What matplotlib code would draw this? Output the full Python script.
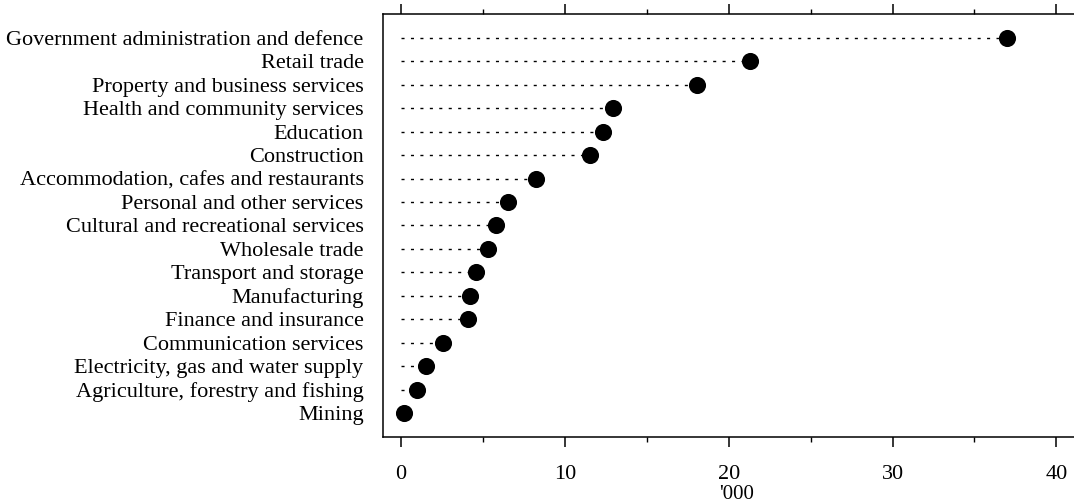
import matplotlib
matplotlib.use("Agg")
import matplotlib.pyplot as plt
from matplotlib.ticker import MultipleLocator

industries = [
    "Government administration and defence",
    "Retail trade",
    "Property and business services",
    "Health and community services",
    "Education",
    "Construction",
    "Accommodation, cafes and restaurants",
    "Personal and other services",
    "Cultural and recreational services",
    "Wholesale trade",
    "Transport and storage",
    "Manufacturing",
    "Finance and insurance",
    "Communication services",
    "Electricity, gas and water supply",
    "Agriculture, forestry and fishing",
    "Mining",
]
values = [37.0, 21.3, 18.05, 12.95, 12.35, 11.55, 8.25, 6.5, 5.8, 5.3,
          4.55, 4.2, 4.1, 2.55, 1.5, 1.0, 0.2]
x_ticks = [0, 10, 20, 30, 40]

plt.rcParams['font.family'] = ['Liberation Serif', 'DejaVu Serif']

fig = plt.figure(figsize=(10.74, 5.04), dpi=100)
ax = fig.add_axes([383 / 1074, 67 / 504, (1090 - 383) / 1074, 423 / 504])

n = len(industries)
ypos = list(range(n - 1, -1, -1))

ax.hlines(ypos, 0, values, colors='black', linewidth=1.0,
          linestyles=(0, (2.2, 4.6)))
ax.plot(values, ypos, 'o', color='black', markersize=11.3, linestyle='none')

ax.set_xlim(-1.1, 42.05)
ax.set_ylim(-1.02, n - 1 + 1.02)

ax.set_yticks(ypos)
ax.set_yticklabels(industries, fontsize=16)
ax.tick_params(axis='y', length=0, pad=14)

ax.set_xticks(x_ticks)
ax.xaxis.set_minor_locator(MultipleLocator(5))
ax.tick_params(axis='x', which='major', direction='out', length=7.5, width=1.1,
               labelsize=16, pad=12.5, top=True)
ax.tick_params(axis='x', which='minor', direction='out', length=3.5, width=1.0,
               top=True)
ax.set_xlabel("'000", fontsize=15, labelpad=1)

for side in ['left', 'top', 'bottom']:
    ax.spines[side].set_linewidth(1.1)
ax.spines['right'].set_visible(False)

fig.savefig("out.png", dpi=100)
